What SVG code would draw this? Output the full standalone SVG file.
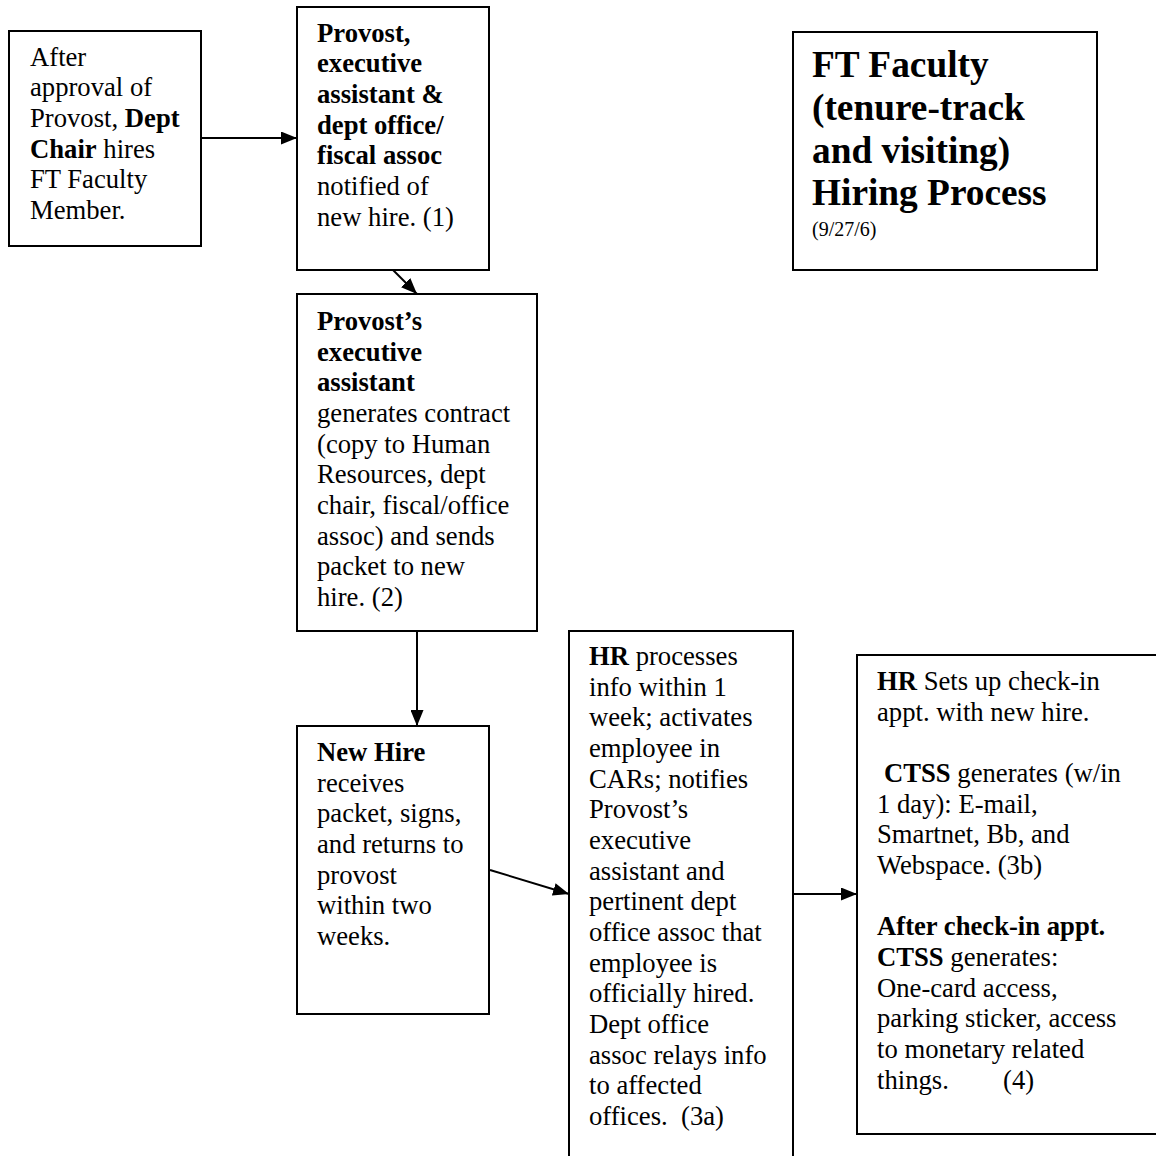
<svg xmlns="http://www.w3.org/2000/svg" width="1156" height="1156" viewBox="0 0 1156 1156">
<style>
.box{fill:#fff;stroke:#000;stroke-width:2}
.t{font-family:"Liberation Serif","Times New Roman",serif;font-size:26.67px;fill:#000}
.title{font-family:"Liberation Serif","Times New Roman",serif;font-size:37.33px;font-weight:bold;fill:#000}
.date{font-family:"Liberation Serif","Times New Roman",serif;font-size:20px;fill:#000}
.b{font-weight:bold}
.conn{stroke:#000;stroke-width:2;fill:none}
</style>
<defs>
<marker id="ah" markerUnits="userSpaceOnUse" markerWidth="16" markerHeight="13" viewBox="0 0 16 13" refX="16" refY="6.5" orient="auto">
<path d="M0,0 L16,6.5 L0,13 z" fill="#000"/>
</marker>
</defs>
<rect width="1156" height="1156" fill="#fff"/>

<g id="connectors">
<line class="conn" x1="201" y1="138" x2="297" y2="138" marker-end="url(#ah)"/>
<line class="conn" x1="393" y1="270" x2="417" y2="294" marker-end="url(#ah)"/>
<line class="conn" x1="417" y1="631" x2="417" y2="726" marker-end="url(#ah)"/>
<line class="conn" x1="490" y1="870" x2="569" y2="894" marker-end="url(#ah)"/>
<line class="conn" x1="793" y1="894" x2="857" y2="894" marker-end="url(#ah)"/>
</g>

<g id="node-dept-chair">
<rect class="box" x="9" y="31" width="192" height="215"/>
<text class="t" x="30">
<tspan x="30" y="65.5">After</tspan>
<tspan x="30" y="96.2">approval of</tspan>
<tspan x="30" y="126.8">Provost, <tspan class="b">Dept</tspan></tspan>
<tspan x="30" y="157.5"><tspan class="b">Chair</tspan> hires</tspan>
<tspan x="30" y="188.2">FT Faculty</tspan>
<tspan x="30" y="218.8">Member.</tspan>
</text>
</g>

<g id="node-notified">
<rect class="box" x="297" y="7" width="192" height="263"/>
<text class="t">
<tspan class="b" x="317" y="41.5">Provost,</tspan>
<tspan class="b" x="317" y="72.2">executive</tspan>
<tspan class="b" x="317" y="102.8">assistant &amp;</tspan>
<tspan class="b" x="317" y="133.5">dept office/</tspan>
<tspan class="b" x="317" y="164.2">fiscal assoc</tspan>
<tspan x="317" y="194.8">notified of</tspan>
<tspan x="317" y="225.5">new hire. (1)</tspan>
</text>
</g>

<g id="node-title">
<rect class="box" x="793" y="32" width="304" height="238"/>
<text class="title">
<tspan x="812" y="76.5">FT Faculty</tspan>
<tspan x="812" y="119.5">(tenure-track</tspan>
<tspan x="812" y="162.5">and visiting)</tspan>
<tspan x="812" y="205">Hiring Process</tspan>
</text>
<text class="date" x="812" y="236">(9/27/6)</text>
</g>

<g id="node-contract">
<rect class="box" x="297" y="294" width="240" height="337"/>
<text class="t">
<tspan class="b" x="317" y="330">Provost’s</tspan>
<tspan class="b" x="317" y="360.7">executive</tspan>
<tspan class="b" x="317" y="391.3">assistant</tspan>
<tspan x="317" y="422">generates contract</tspan>
<tspan x="317" y="452.7">(copy to Human</tspan>
<tspan x="317" y="483.3">Resources, dept</tspan>
<tspan x="317" y="514">chair, fiscal/office</tspan>
<tspan x="317" y="544.7">assoc) and sends</tspan>
<tspan x="317" y="575.3">packet to new</tspan>
<tspan x="317" y="606">hire. (2)</tspan>
</text>
</g>

<g id="node-new-hire">
<rect class="box" x="297" y="726" width="192" height="288"/>
<text class="t">
<tspan class="b" x="317" y="761">New Hire</tspan>
<tspan x="317" y="791.7">receives</tspan>
<tspan x="317" y="822.3">packet, signs,</tspan>
<tspan x="317" y="853">and returns to</tspan>
<tspan x="317" y="883.7">provost</tspan>
<tspan x="317" y="914.3">within two</tspan>
<tspan x="317" y="945">weeks.</tspan>
</text>
</g>

<g id="node-hr-processes">
<rect class="box" x="569" y="631" width="224" height="540"/>
<text class="t" xml:space="preserve"><tspan x="589" y="665"><tspan class="b">HR</tspan> processes</tspan><tspan x="589" y="695.7">info within 1</tspan><tspan x="589" y="726.3">week; activates</tspan><tspan x="589" y="757">employee in</tspan><tspan x="589" y="787.7">CARs; notifies</tspan><tspan x="589" y="818.3">Provost’s</tspan><tspan x="589" y="849">executive</tspan><tspan x="589" y="879.7">assistant and</tspan><tspan x="589" y="910.3">pertinent dept</tspan><tspan x="589" y="941">office assoc that</tspan><tspan x="589" y="971.7">employee is</tspan><tspan x="589" y="1002.3">officially hired.</tspan><tspan x="589" y="1033">Dept office</tspan><tspan x="589" y="1063.7">assoc relays info</tspan><tspan x="589" y="1094.3">to affected</tspan><tspan x="589" y="1125">offices.  (3a)</tspan></text>
</g>

<g id="node-checkin">
<rect class="box" x="857" y="655" width="320" height="479"/>
<text class="t">
<tspan x="877" y="690"><tspan class="b">HR</tspan> Sets up check-in</tspan>
<tspan x="877" y="720.7">appt. with new hire.</tspan>
<tspan x="884" y="782"><tspan class="b">CTSS</tspan> generates (w/in</tspan>
<tspan x="877" y="812.7">1 day): E-mail,</tspan>
<tspan x="877" y="843.3">Smartnet, Bb, and</tspan>
<tspan x="877" y="874">Webspace. (3b)</tspan>
<tspan class="b" x="877" y="935.3">After check-in appt.</tspan>
<tspan x="877" y="966"><tspan class="b">CTSS</tspan> generates:</tspan>
<tspan x="877" y="996.7">One-card access,</tspan>
<tspan x="877" y="1027.3">parking sticker, access</tspan>
<tspan x="877" y="1058">to monetary related</tspan>
<tspan x="877" y="1088.7">things.</tspan><tspan x="1003" y="1088.7">(4)</tspan>
</text>
</g>
</svg>
